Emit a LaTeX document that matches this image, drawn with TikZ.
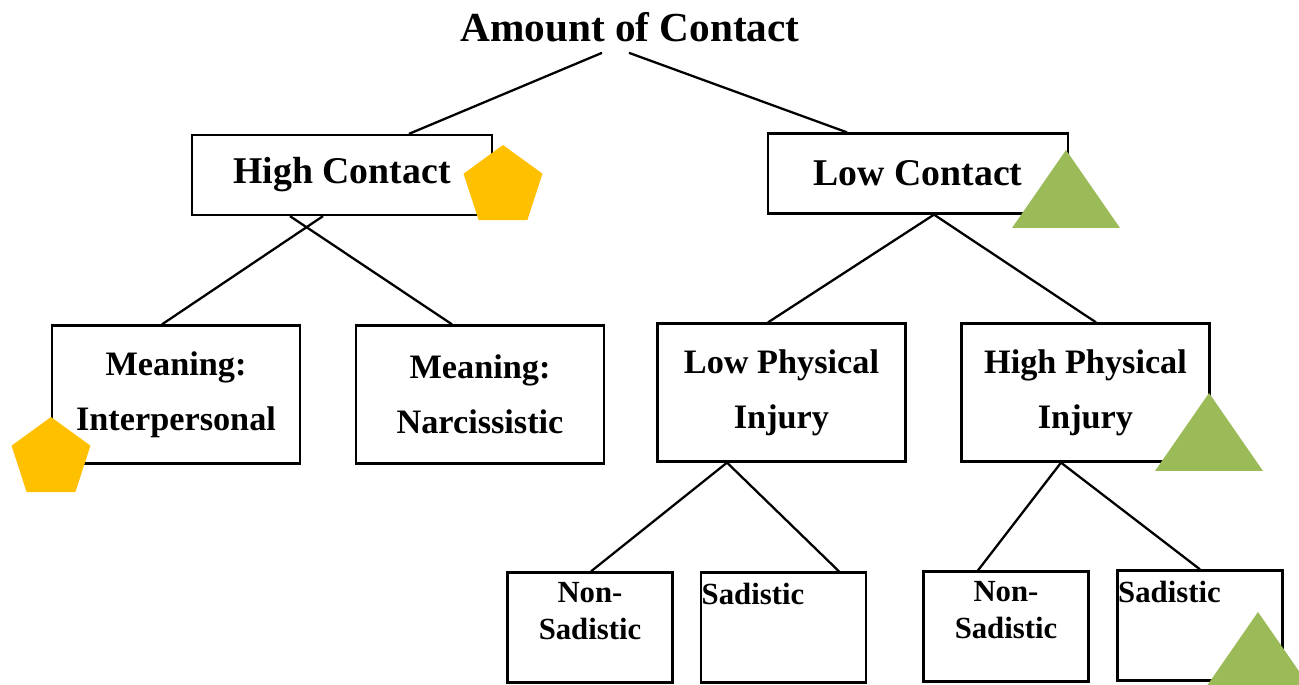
\documentclass[tikz,border=0pt]{standalone}
\usepackage{fontspec}
\setmainfont{Liberation Serif}
\usetikzlibrary{shapes.geometric,calc}
\definecolor{markorange}{HTML}{FFC000}
\definecolor{markgreen}{HTML}{9BBB59}
\tikzstyle{topbox}=[draw,line width=1.3pt,minimum width=6cm,minimum height=1.6cm,inner sep=0pt,font=\bfseries\fontsize{21.5}{26}\selectfont]
\tikzstyle{midbox}=[draw,line width=1.3pt,minimum width=4.96cm,minimum height=2.76cm,inner sep=0pt,align=center,font=\bfseries\fontsize{19.5}{31.3}\selectfont]
\tikzstyle{leafbox}=[draw,line width=1.3pt,minimum width=3.3cm,minimum height=2.2cm,inner sep=0pt]
\tikzstyle{leaftext}=[inner sep=0pt,align=center,font=\bfseries\fontsize{17.5}{20.6}\selectfont]
\tikzstyle{edge} = [draw,line width=1.3pt,-]
\tikzstyle{penta}=[regular polygon,regular polygon sides=5,fill=markorange,minimum size=1.66cm,inner sep=0pt]
\tikzstyle{tri}=[fill=markgreen]

\begin{document}
\begin{tikzpicture}[x=0.02cm,y=-0.02cm]
    \useasboundingbox (0,0) rectangle (1299,685);
    % Title on top
    \node[anchor=base,inner sep=0pt,font=\bfseries\fontsize{23.5}{28}\selectfont] (amount) at (630,42) {Amount of Contact};
    % First level
    \node[topbox] (high) at (342,175) {High Contact};
    \node[topbox] (low) at (918,173.5) {Low Contact};
    % Second level
    \node[midbox] (inter) at (176,394.5) {Meaning:\\Interpersonal};
    \node[midbox] (narc) at (480,394.5) {Meaning:\\Narcissistic};
    \node[midbox] (lowinj) at (781.5,392.5) {Low Physical\\Injury};
    \node[midbox] (highinj) at (1085.5,392.5) {High Physical\\Injury};
    % Third level
    \node[leafbox,label={[leaftext,anchor=north,yshift=-0.22cm]north:Non-\\Sadistic}] (lowns) at (590,627.5) {};
    \node[leafbox,label={[leaftext,anchor=north west,xshift=0.03cm,yshift=-0.22cm]north west:Sadistic}] (lowsd) at (783.5,627.5) {};
    \node[leafbox,label={[leaftext,anchor=north,yshift=-0.22cm]north:Non-\\Sadistic}] (highns) at (1006,626.5) {};
    \node[leafbox,label={[leaftext,anchor=north west,xshift=0.03cm,yshift=-0.22cm]north west:Sadistic}] (highsd) at (1200,625.5) {};
    % Connect the title with the first level
    \path[edge] ($(amount.south)+(-28,10)$) -- ($(high.north)+(67,0)$);
    \path[edge] ($(amount.south)+(-1,10)$) -- ($(low.north)+(-71,0)$);
    % Connect the lower levels
    \foreach \source/\sdx/\dest/\ddx in {high/-19/inter/-14, high/-52/narc/-28, low/16/lowinj/-13.5, low/16/highinj/10.5, lowinj/-54.5/lowns/1, lowinj/-54.5/lowsd/55.5, highinj/-24.5/highns/-28, highinj/-24.5/highsd/0}
        \path[edge] ($(\source.south)+(\sdx,0)$) -- ($(\dest.north)+(\ddx,0)$);
    % Markers
    \node[penta] (penthigh) at (503,186.5) {};
    \node[penta] (pentinter) at (51,458.5) {};
    \foreach \x/\y in {1066/150, 1209/393, 1258/612}
        \fill[tri] (\x,\y) -- ++(-54,78) -- ++(108,0) -- cycle;
\end{tikzpicture}
\end{document}
